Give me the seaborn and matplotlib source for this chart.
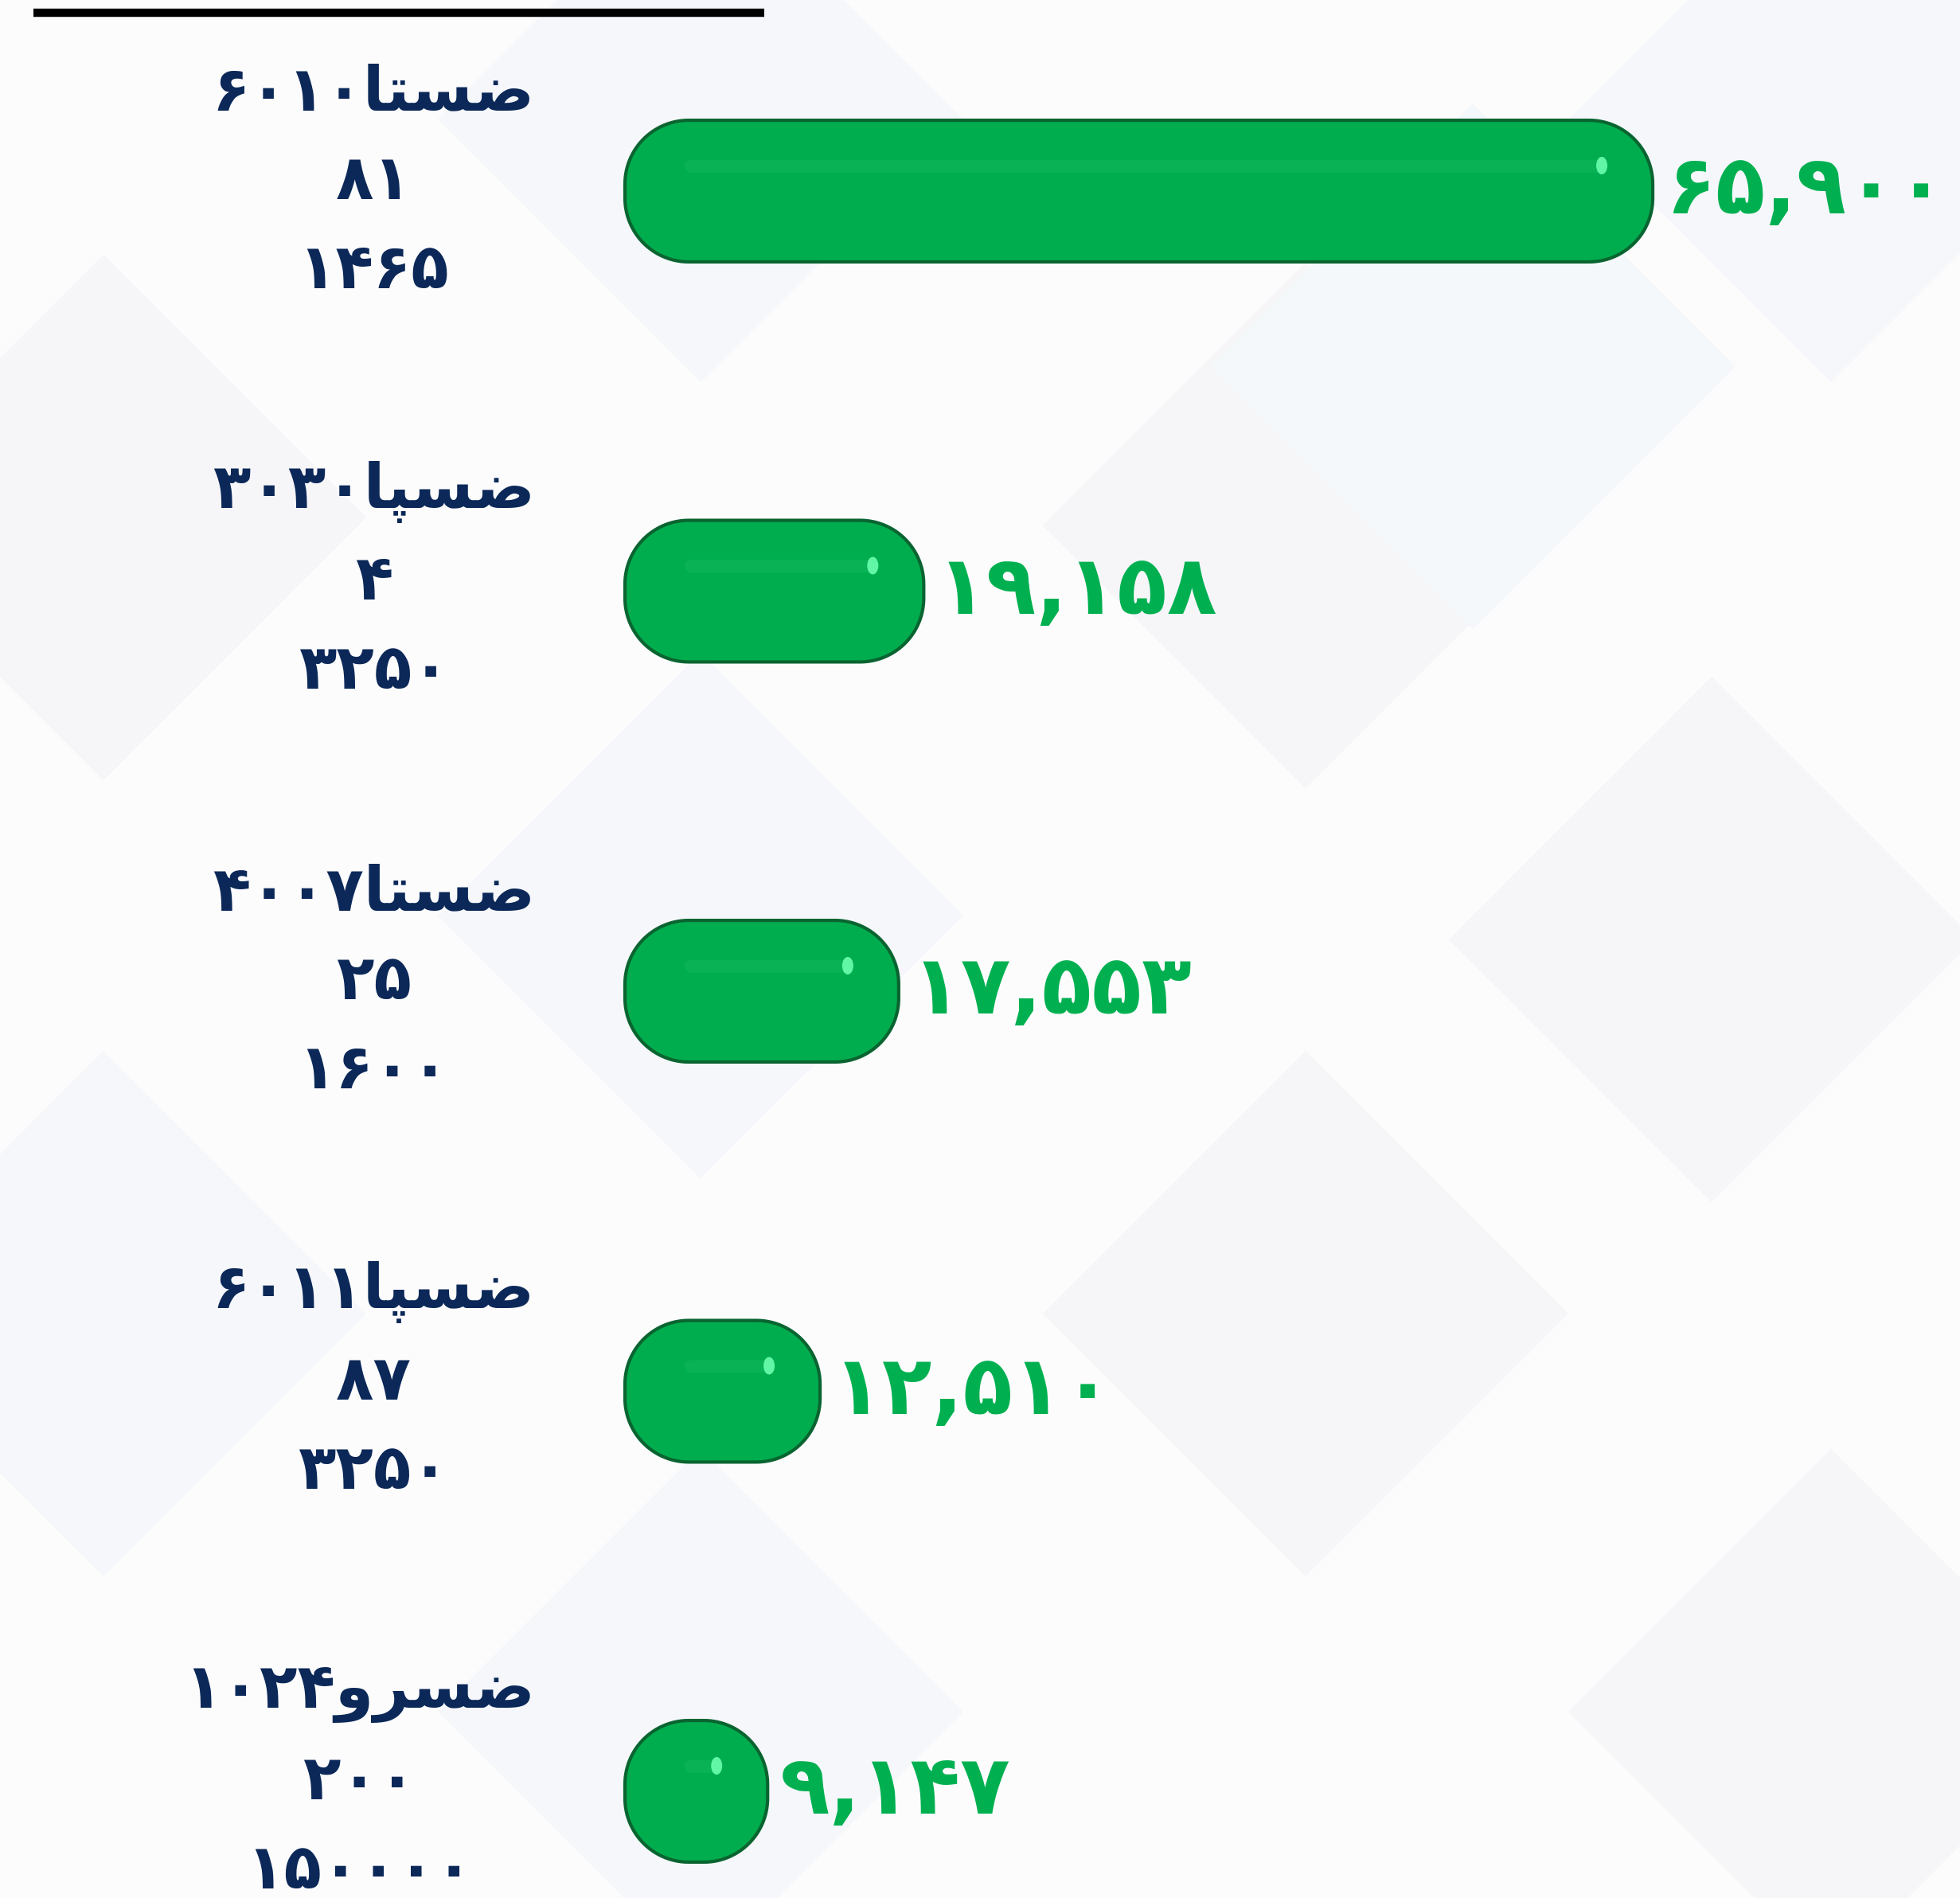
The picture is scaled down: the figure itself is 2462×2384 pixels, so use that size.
import re
import numpy as np
import pandas as pd
import matplotlib
matplotlib.use("Agg")
import matplotlib.pyplot as plt
import seaborn as sns
from matplotlib.patches import Ellipse, Polygon

# ---------------- data ----------------
symbols = ["ضستا6010", "ضسپا3030", "ضستا4007", "ضسپا6011", "ضسرو1024"]
line2 = ["81", "4", "25", "87", "200"]
line3 = ["1465", "3250", "1600", "3250", "150000"]
values = [65900, 19158, 17553, 12510, 9147]

# ---------------- simple Persian shaping ----------------
FORMS = {
    'ض': ('\uFEBD', '\uFEBE', '\uFEBF', '\uFEC0'),
    'س': ('\uFEB1', '\uFEB2', '\uFEB3', '\uFEB4'),
    'ت': ('\uFE95', '\uFE96', '\uFE97', '\uFE98'),
    'پ': ('\uFB56', '\uFB57', '\uFB58', '\uFB59'),
    'ا': ('\uFE8D', '\uFE8E', None, None),
    'ر': ('\uFEAD', '\uFEAE', None, None),
    'و': ('\uFEED', '\uFEEE', None, None),
}
NONJOIN = set('اردذزژو')
FA = str.maketrans('0123456789', '۰۱۲۳۴۵۶۷۸۹')


def shape_word(w):
    out = []
    n = len(w)
    for i, c in enumerate(w):
        prev_j = i > 0 and w[i - 1] in FORMS and w[i - 1] not in NONJOIN
        next_j = c not in NONJOIN and i < n - 1 and w[i + 1] in FORMS
        iso, fin, ini, med = FORMS[c]
        if prev_j and next_j:
            out.append(med)
        elif prev_j:
            out.append(fin)
        elif next_j:
            out.append(ini)
        else:
            out.append(iso)
    return ''.join(reversed(out))


def rtl(s):
    runs = re.findall(r'[^0-9,]+|[0-9,]+', s)
    parts = []
    for r in runs:
        if r[0] in FORMS:
            parts.append(shape_word(r))
        else:
            parts.append(r.translate(FA))
    return ''.join(reversed(parts))


def fa_num(v):
    return f"{v:,}".translate(FA)


# ---------------- figure ----------------
W, H = 2462, 2384
DPI = 100
sns.set_theme(style="white")
plt.rcParams['font.family'] = ['DejaVu Sans']

fig = plt.figure(figsize=(W / DPI, H / DPI), dpi=DPI, facecolor="#fcfcfd")

# faint diamond background pattern
bg = fig.add_axes([0, 0, 1, 1])
bg.set_xlim(0, W)
bg.set_ylim(H, 0)
bg.axis("off")
diamonds = [
    (130, 650, "#f6f6f9"), (880, 150, "#f5f7fa"), (1640, 660, "#f6f6f9"),
    (2300, 150, "#f5f7fa"), (880, 1150, "#f6f7fa"), (2150, 1180, "#f6f6f9"),
    (130, 1650, "#f6f7fa"), (1640, 1650, "#f6f6f9"), (880, 2150, "#f5f7fa"),
    (2300, 2150, "#f6f6f9"), (1850, 460, "#f5f8fa"),
]
for cx, cy, col in diamonds:
    r = 330
    bg.add_patch(Polygon([(cx, cy - r), (cx + r, cy), (cx, cy + r), (cx - r, cy)],
                         closed=True, facecolor=col, edgecolor="none", zorder=0))

# top black rule
bg.plot([42, 960], [16, 16], color="black", lw=7.5, solid_capstyle="butt", zorder=1)

# main axes
x0_px = 785
XMAX = 85600
YLIM = (4.2667, -0.4776)
ax = fig.add_axes([x0_px / W, 0, (W - x0_px) / W, 1])
ax.patch.set_alpha(0)

df = pd.DataFrame({"symbol": symbols, "value": values})
sns.barplot(data=df, x="value", y="symbol", orient="h", width=0.354,
            color="#00ad4e", ax=ax)
ax.set_xlim(0, XMAX)
ax.set_ylim(*YLIM)
ax.axis("off")

# pixel/data conversions
xpp = XMAX / (W - x0_px)                 # x data per pixel
ypp = (YLIM[0] - YLIM[1]) / H            # y data per pixel


def pill(x, y, w, h, r_px):
    """Rounded rectangle with circular (in pixel space) corners, data coords."""
    rx, ry = r_px * xpp, r_px * ypp
    rx = min(rx, w / 2)
    t = np.linspace(0, np.pi / 2, 30)
    pts = []
    for cx, cy, a0 in [(x + w - rx, y + h - ry, 0.0),
                       (x + rx, y + h - ry, np.pi / 2),
                       (x + rx, y + ry, np.pi),
                       (x + w - rx, y + ry, 1.5 * np.pi)]:
        ang = a0 + t
        pts += list(zip(cx + rx * np.cos(ang), cy + ry * np.sin(ang)))
    return pts


bars = list(ax.patches)
for b in bars:
    bx, by, bw, bh = b.get_x(), b.get_y(), b.get_width(), b.get_height()
    b.remove()
    h_px = bh / ypp
    r_px = 0.45 * h_px
    # main body
    ax.add_patch(Polygon(pill(bx, by, bw, bh, r_px), closed=True,
                         facecolor="#00ad4e", edgecolor="#0a6430",
                         linewidth=3, zorder=3, clip_on=False))
    # highlight stripe
    sx0 = bx + 75 * xpp
    sx1 = bx + bw - 62 * xpp
    if sx1 > sx0:
        sh = 0.09 * bh
        ax.add_patch(Polygon(pill(sx0, by + 0.28 * bh, sx1 - sx0, sh, 0.5 * sh / ypp),
                             closed=True, facecolor="#12b95c", edgecolor="none",
                             alpha=0.5, zorder=4, clip_on=False))
    # bright specular spot
    ax.add_patch(Ellipse((bx + bw - 64 * xpp, by + 0.32 * bh), 14 * xpp, 22 * ypp,
                         facecolor="#6dffb0", edgecolor="none", alpha=0.9, zorder=5,
                         clip_on=False))

    # value label
    i = int(round(by + bh / 2))
    ax.annotate(fa_num(values[i]), xy=(bx + bw, by + bh / 2),
                xytext=(16, 0), textcoords="offset pixels",
                ha="left", va="center", fontsize=74, fontweight="bold",
                color="#00b050", annotation_clip=False, zorder=6)

# category labels (three lines, right-anchored, centred lines)
for i in range(len(symbols)):
    txt = "\n".join([rtl(symbols[i]), line2[i].translate(FA), line3[i].translate(FA)])
    ax.annotate(txt, xy=(0, i), xytext=(-113, 12), textcoords="offset pixels",
                ha="right", va="center", multialignment="center",
                fontsize=56, fontweight="bold", color="#0b2858",
                linespacing=1.6, annotation_clip=False, zorder=6)

fig.savefig("out.png", dpi=DPI, facecolor=fig.get_facecolor())
